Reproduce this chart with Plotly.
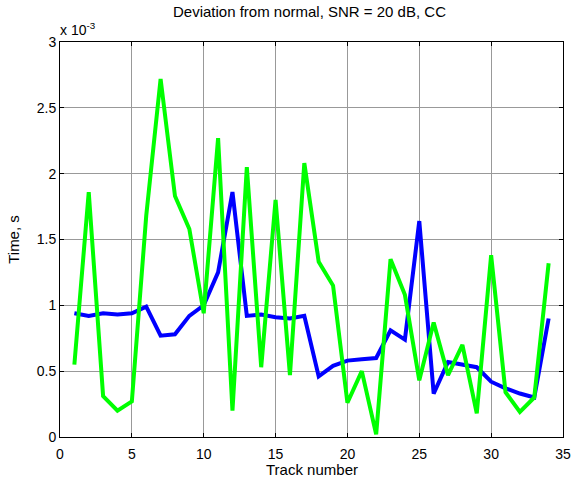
import plotly.graph_objects as go
import numpy as np

# track numbers
tracks = list(range(1, 35))

# deviation values, in units of 1e-3 s
blue_ms = [0.94, 0.92, 0.94, 0.93, 0.94, 0.99, 0.77, 0.78, 0.92, 1.00,
           1.25, 1.86, 0.92, 0.93, 0.91, 0.90, 0.92, 0.46, 0.54, 0.58,
           0.59, 0.60, 0.81, 0.74, 1.64, 0.33, 0.57, 0.55, 0.53, 0.42,
           0.37, 0.33, 0.30, 0.90]
green_ms = [0.55, 1.86, 0.31, 0.20, 0.27, 1.68, 2.72, 1.83, 1.58, 0.94,
            2.27, 0.20, 2.05, 0.53, 1.80, 0.47, 2.08, 1.33, 1.15, 0.26,
            0.50, 0.02, 1.35, 1.08, 0.43, 0.87, 0.47, 0.70, 0.18, 1.38,
            0.34, 0.19, 0.30, 1.32]

x_ticks = [0, 5, 10, 15, 20, 25, 30, 35]
y_ticks_ms = [0, 0.5, 1, 1.5, 2, 2.5, 3]
y_tick_labels = ['0', '0.5', '1', '1.5', '2', '2.5', '3']

scale = 1e-3

fig = go.Figure()
fig.add_trace(go.Scatter(x=tracks, y=np.array(blue_ms) * scale, mode='lines',
                         line=dict(color='#0000FF', width=4), showlegend=False))
fig.add_trace(go.Scatter(x=tracks, y=np.array(green_ms) * scale, mode='lines',
                         line=dict(color='#00FF00', width=4), showlegend=False))

axis_style = dict(showline=True, linecolor='black', linewidth=1, mirror='ticks',
                  ticks='inside', ticklen=4, tickcolor='black',
                  showgrid=True, gridcolor='#999999', gridwidth=1,
                  zeroline=False, tickfont=dict(size=14, color='black'))

fig.update_xaxes(range=[0, 35], tickvals=x_ticks, ticklabelstandoff=4, **axis_style)
fig.update_yaxes(range=[0, 3 * scale], tickvals=np.array(y_ticks_ms) * scale,
                 ticktext=y_tick_labels,
                 title=dict(text='Time, s', font=dict(size=15, color='black'), standoff=13),
                 **axis_style)

# x axis label placed a bit lower than plotly would put it
fig.add_annotation(text='Track number', xref='paper', yref='paper', x=0.5, y=-0.0815,
                   xanchor='center', yanchor='middle', showarrow=False,
                   font=dict(size=15, color='black', family='Arial'))

fig.add_annotation(text='x 10<sup>-3</sup>', xref='paper', yref='paper', x=0, y=1,
                   xanchor='left', yanchor='bottom', showarrow=False, yshift=2, xshift=-2,
                   font=dict(size=14, color='black', family='Arial'))

fig.update_layout(
    width=571, height=477,
    margin=dict(l=60, r=8, t=42, b=40, autoexpand=False),
    paper_bgcolor='white', plot_bgcolor='white',
    font=dict(family='Arial', color='black'),
    title=dict(text='Deviation from normal, SNR = 20 dB, CC', x=0.542, xanchor='center',
               y=1 - 12 / 477, yanchor='middle', font=dict(size=15, color='black')),
)

# drop the page's default body margin so the figure sits at the window corner
fig.write_html("out.html", config={'displayModeBar': False},
               post_script="document.body.style.margin='0';")
